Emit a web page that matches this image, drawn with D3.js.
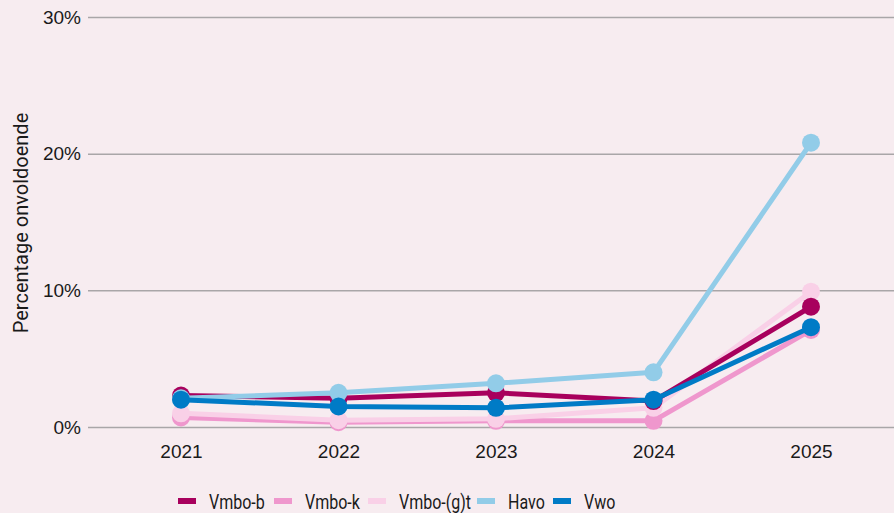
<!DOCTYPE html>
<html>
<head>
<meta charset="utf-8">
<script src="https://cdn.jsdelivr.net/npm/d3@7"></script>
<style>
  body { margin: 0; background: #f7ecf0; }
  svg { display: block; font-family: Roboto, "Noto Sans", sans-serif; }
  .tick text { fill: #1a1a1a; }
</style>
</head>
<body>
<div id="chart"></div>
<script>
// Data
const years = ["2021", "2022", "2023", "2024", "2025"];
const vmboB = [2.3, 2.1, 2.5, 1.9, 8.8];
const vmboK = [0.7, 0.35, 0.45, 0.45, 7.1];
const vmboGt = [1.0, 0.5, 0.6, 1.4, 9.9];
const havo = [2.1, 2.5, 3.2, 4.0, 20.8];
const vwo = [2.0, 1.5, 1.4, 2.0, 7.3];
const yTicks = [0, 10, 20, 30];

const series = [
    { name: "Vmbo-b", values: vmboB, color: "#a8005d" },
    { name: "Vmbo-k", values: vmboK, color: "#ef97cd" },
    { name: "Vmbo-(g)t", values: vmboGt, color: "#f9d0e7" },
    { name: "Havo", values: havo, color: "#92cce8" },
    { name: "Vwo", values: vwo, color: "#007bc6" }
];
// drawing order (last on top)
const drawOrder = ["Vmbo-k", "Vmbo-(g)t", "Vmbo-b", "Havo", "Vwo"];

const W = 894, H = 513;
const margin = { top: 17, right: 0, bottom: 86, left: 88 };

const svg = d3.select("#chart")
    .append("svg")
    .attr("width", W)
    .attr("height", H);

svg.append("rect").attr("width", W).attr("height", H).attr("fill", "#f7ecf0");

const x = d3.scalePoint()
    .domain(years)
    .range([181, 811]);

const y = d3.scaleLinear()
    .domain([0, 30])
    .range([H - margin.bottom, margin.top]);

// Gridlines + y labels
const yAxis = svg.append("g")
    .attr("transform", `translate(${margin.left},0)`)
    .call(d3.axisLeft(y).tickValues(yTicks).tickSize(-(W - margin.left)).tickFormat(d => d + "%"));
yAxis.select(".domain").remove();
yAxis.selectAll(".tick line").attr("stroke", "#a9a6a8").attr("stroke-width", 1.5);
yAxis.selectAll(".tick text")
    .attr("x", -7)
    .style("font-size", "19px");

// x labels
const xAxis = svg.append("g")
    .attr("transform", `translate(0,${H - margin.bottom})`)
    .call(d3.axisBottom(x).tickSize(0).tickPadding(18));
xAxis.select(".domain").remove();
xAxis.selectAll(".tick text").style("font-size", "19px");

// y title
svg.append("text")
    .attr("transform", `translate(28,${(y(0) + y(30)) / 2 + 1}) rotate(-90)`)
    .attr("text-anchor", "middle")
    .style("font-size", "20px")
    .attr("fill", "#1a1a1a")
    .text("Percentage onvoldoende");

const line = d3.line()
    .x((d, i) => x(years[i]))
    .y(d => y(d));

const ordered = drawOrder.map(n => series.find(s => s.name === n));

const g = svg.selectAll(".series")
    .data(ordered)
    .enter()
    .append("g")
    .attr("class", "series");

g.append("path")
    .attr("d", d => line(d.values))
    .attr("fill", "none")
    .attr("stroke", d => d.color)
    .attr("stroke-width", 5)
    .attr("stroke-linejoin", "round");

g.selectAll("circle")
    .data(d => d.values.map((v, i) => ({ v, i, color: d.color })))
    .enter()
    .append("circle")
    .attr("cx", d => x(years[d.i]))
    .attr("cy", d => y(d.v))
    .attr("r", 9)
    .attr("fill", d => d.color);

// Legend
const legendX = [178, 274, 368, 477, 553];
const legend = svg.selectAll(".legend")
    .data(series)
    .enter()
    .append("g")
    .attr("class", "legend")
    .attr("transform", (d, i) => `translate(${legendX[i]},501)`);

legend.append("rect")
    .attr("x", 0)
    .attr("y", -3)
    .attr("width", 18)
    .attr("height", 6)
    .attr("fill", d => d.color);

legend.append("text")
    .attr("transform", "translate(31,8) scale(0.8,1)")
    .style("font-size", "20px")
    .attr("fill", "#1a1a1a")
    .text(d => d.name);
</script>
</body>
</html>
